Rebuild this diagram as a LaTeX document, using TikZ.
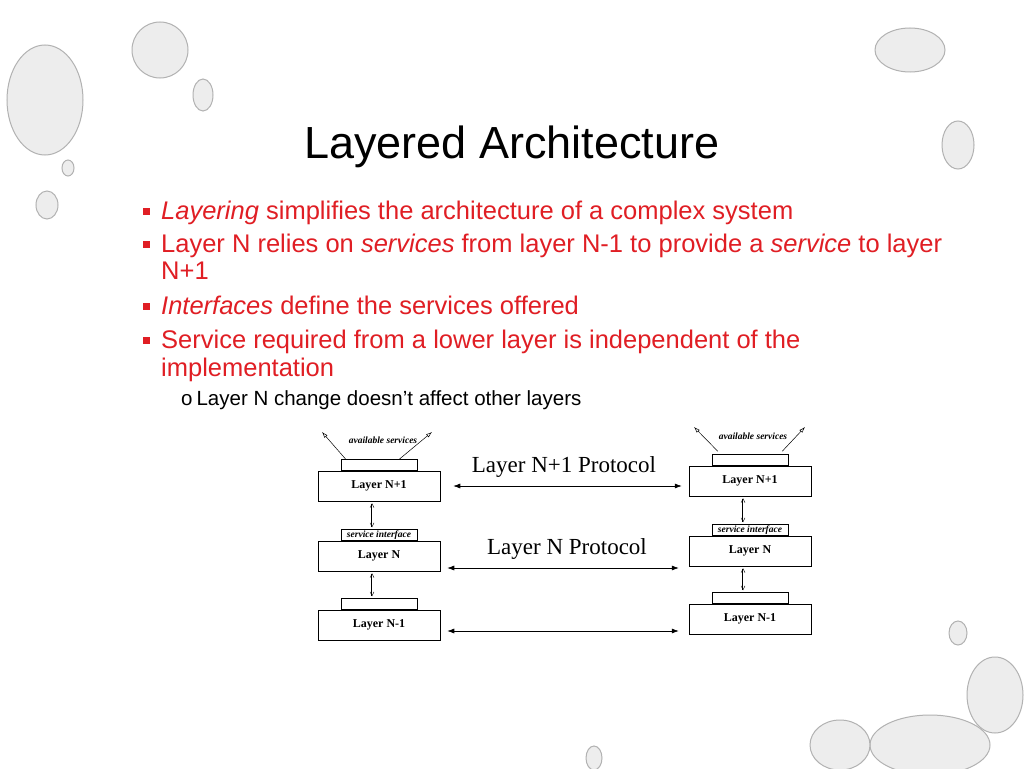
\documentclass[tikz,border=0pt]{standalone}
\usepackage{fontspec}
\setmainfont{Liberation Serif}
\setsansfont{Liberation Sans}
\usetikzlibrary{positioning,arrows.meta}
\definecolor{bulletred}{RGB}{224,30,36}
\tikzset{
        % layer boxes
        layerbox/.style={draw, fill=white, line width=0.5pt, minimum width=122pt, minimum height=30pt, inner sep=0pt, font=\fontsize{12}{14}\selectfont\bfseries},
        % small boxes on top of layers
        tabbox/.style={draw, fill=white, line width=0.5pt, minimum width=76pt, minimum height=11pt, inner sep=0pt, font=\fontsize{9.5}{10}\selectfont\bfseries\itshape},
        % protocol arrows
        protoarrow/.style={{Latex[length=7pt,width=5pt]}-{Latex[length=7pt,width=5pt]}, line width=0.6pt},
        % arrows between layers
        stackarrow/.style={{Straight Barb[length=4pt,width=4pt]}-{Straight Barb[length=4pt,width=4pt]}, line width=0.4pt, double, double distance=1pt},
        % service arrows
        servarrow/.style={-{Latex[length=6pt,width=4pt,open]}, line width=0.5pt},
        bullettext/.style={anchor=base west, inner sep=0pt, text=bulletred, font=\sffamily\fontsize{25.5}{29}\selectfont},
        bulletbox/.style={fill=bulletred, minimum size=7pt, inner sep=0pt},
        bubble/.style={fill=black!7, draw=black!30, line width=1pt}
}
\begin{document}
\begin{tikzpicture}[x=1pt,y=-1pt]
    \useasboundingbox (0,0) rectangle (1024,768);
    \fill[white] (0,0) rectangle (1024,768);
    % bubbles
    \filldraw[bubble] (45,100) ellipse (38 and 55);
    \filldraw[bubble] (160,50) ellipse (28 and 28);
    \filldraw[bubble] (203,95) ellipse (10 and 16);
    \filldraw[bubble] (68,168) ellipse (6 and 8);
    \filldraw[bubble] (47,205) ellipse (11 and 14);
    \filldraw[bubble] (910,50) ellipse (35 and 22);
    \filldraw[bubble] (958,145) ellipse (16 and 24);
    \filldraw[bubble] (958,633) ellipse (9 and 12);
    \filldraw[bubble] (995,695) ellipse (28 and 38);
    \filldraw[bubble] (930,745) ellipse (60 and 30);
    \filldraw[bubble] (840,745) ellipse (30 and 25);
    \filldraw[bubble] (594,758) ellipse (8 and 12);

    % title and bullets
    \node[font=\sffamily\fontsize{45}{50}\selectfont] (title) at (512,147) {Layered Architecture};
    \node[bulletbox] (b1) at (146,211) {};
    \node[bullettext] (t1) at (161,219) {\textit{Layering} simplifies the architecture of a complex system};
    \node[bulletbox] (b2) at (146,244) {};
    \node[bullettext] (t2) at (161,252) {Layer N relies on \textit{services} from layer N-1 to provide a \textit{service} to layer};
    \node[bullettext] (t2b) at (161,279) {N+1};
    \node[bulletbox] (b3) at (146,306) {};
    \node[bullettext] (t3) at (161,314) {\textit{Interfaces} define the services offered};
    \node[bulletbox] (b4) at (146,340) {};
    \node[bullettext] (t4) at (161,348) {Service required from a lower layer is independent of the};
    \node[bullettext] (t4b) at (161,376) {implementation};
    \node[anchor=base west, inner sep=0pt, font=\sffamily\fontsize{20.5}{24}\selectfont] (t5) at (181,405) {o\hspace{4pt}Layer N change doesn’t affect other layers};

    % left stack
    \node[layerbox] (lnp) at (379,486) {Layer N+1};
    \node[tabbox, above=0pt of lnp] (lnptab) {};
    \node[layerbox] (ln) at (379,556) {Layer N};
    \node[tabbox, above=0pt of ln] (lntab) {service interface};
    \node[layerbox] (lnm) at (379,625) {Layer N-1};
    \node[tabbox, above=0pt of lnm] (lnmtab) {};
    \node[font=\fontsize{9.5}{10}\selectfont\bfseries\itshape] (lav) at (383,440) {available services};
    \coordinate (lsa) at (322,432);
    \coordinate (lsb) at (432,432);
    \draw[servarrow] ([xshift=5pt]lnptab.north west) -- (lsa);
    \draw[servarrow] ([xshift=-18pt]lnptab.north east) -- (lsb);
    \draw[stackarrow] ([yshift=-2pt,xshift=-7pt]lnp.south) -- ([yshift=2pt,xshift=-7pt]lntab.north);
    \draw[stackarrow] ([yshift=-2pt,xshift=-7pt]ln.south) -- ([yshift=2pt,xshift=-7pt]lnmtab.north);

    % right stack
    \node[layerbox] (rnp) at (750,481) {Layer N+1};
    \node[tabbox, above=0pt of rnp] (rnptab) {};
    \node[layerbox] (rn) at (750,551) {Layer N};
    \node[tabbox, above=0pt of rn] (rntab) {service interface};
    \node[layerbox] (rnm) at (750,619) {Layer N-1};
    \node[tabbox, above=0pt of rnm] (rnmtab) {};
    \node[font=\fontsize{9.5}{10}\selectfont\bfseries\itshape] (rav) at (753,436) {available services};
    \coordinate (rsa) at (694,427);
    \coordinate (rsb) at (805,427);
    \draw[servarrow] ([xshift=6pt,yshift=3pt]rnptab.north west) -- (rsa);
    \draw[servarrow] ([xshift=-6pt,yshift=3pt]rnptab.north east) -- (rsb);
    \draw[stackarrow] ([yshift=-2pt,xshift=-7pt]rnp.south) -- ([yshift=2pt,xshift=-7pt]rntab.north);
    \draw[stackarrow] ([yshift=-2pt,xshift=-7pt]rn.south) -- ([yshift=2pt,xshift=-7pt]rnmtab.north);

    % protocols
    \draw[protoarrow] ([xshift=13pt]lnp.east) -- ([xshift=-7pt]lnp.east -| rnp.west);
    \draw[protoarrow] ([xshift=7pt,yshift=-12pt]ln.east) -- ([xshift=-10pt,yshift=-12pt]ln.east -| rn.west);
    \draw[protoarrow] ([xshift=7pt,yshift=-6pt]lnm.east) -- ([xshift=-10pt,yshift=-6pt]lnm.east -| rnm.west);
    \node[font=\fontsize{23}{26}\selectfont] (pnp) at (564,467) {Layer N+1 Protocol};
    \node[font=\fontsize{23}{26}\selectfont] (pn) at (567,549) {Layer N Protocol};
\end{tikzpicture}
\end{document}
